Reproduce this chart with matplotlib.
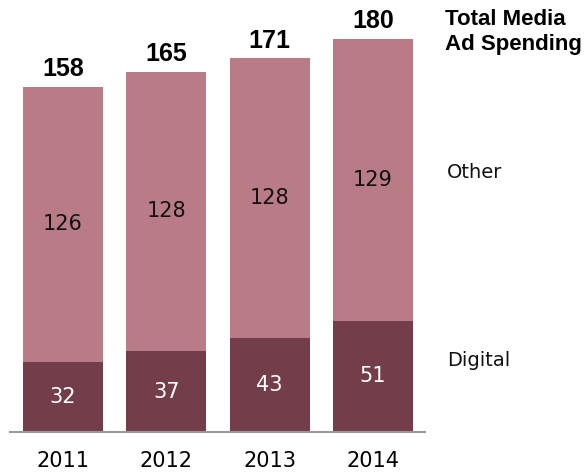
import matplotlib.pyplot as plt

years = ["2011", "2012", "2013", "2014"]
digital = [32, 37, 43, 51]
other = [126, 128, 128, 129]
totals = [158, 165, 171, 180]

DIGITAL_COLOR = "#733d49"
OTHER_COLOR = "#b97c86"
BOLD_FONT = ["Liberation Sans", "DejaVu Sans"]

W, H = 584, 475
fig = plt.figure(figsize=(W / 100, H / 100), dpi=100)
ax = fig.add_axes([10 / W, 43 / H, 415 / W, 426 / H])

x = range(len(years))
ax.bar(x, digital, width=0.775, color=DIGITAL_COLOR)
ax.bar(x, other, width=0.775, bottom=digital, color=OTHER_COLOR)

for i in x:
    ax.text(i, digital[i] / 2, str(digital[i]), ha="center", va="center",
            color="white", fontsize=15)
    ax.text(i, digital[i] + other[i] / 2, str(other[i]), ha="center", va="center",
            color="#111111", fontsize=15)
    ax.annotate(str(totals[i]), (i, totals[i]), xytext=(0, 4), textcoords="offset points",
                ha="center", va="bottom", fontsize=18, fontweight="bold", family=BOLD_FONT)

ax.set_xlim(-0.513, 3.503)
ax.set_ylim(0, 195)
ax.set_xticks(list(x))
ax.set_xticklabels(years, fontsize=15)
ax.tick_params(axis="x", length=0, pad=14)
ax.set_yticks([])
for side in ["top", "right", "left"]:
    ax.spines[side].set_visible(False)
ax.spines["bottom"].set_color("#999999")
ax.spines["bottom"].set_linewidth(1.5)

# series labels on the right
fig.text(447 / W, 1 - 172 / H, "Other", fontsize=14, va="center", color="#111111")
fig.text(447 / W, 1 - 361 / H, "Digital", fontsize=14, va="center", color="#111111")
fig.text(445 / W, 1 - 25 / H, "Total Media", fontsize=16, fontweight="bold",
         va="baseline", family=BOLD_FONT)
fig.text(445 / W, 1 - 50 / H, "Ad Spending", fontsize=16, fontweight="bold",
         va="baseline", family=BOLD_FONT)

fig.savefig("out.png", dpi=100)
